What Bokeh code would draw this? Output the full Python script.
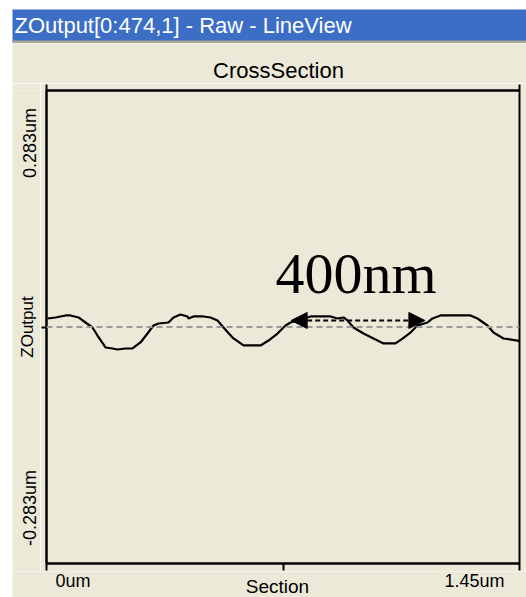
import math
from bokeh.plotting import figure
from bokeh.models import (Range1d, FixedTicker, LinearAxis, Label, Span, Arrow, NormalHead, Spacer)
from bokeh.layouts import column, row
from bokeh.embed import file_html
from bokeh.resources import INLINE

# ---- data (um) ----
section_x = [0.003, 0.0276, 0.0582, 0.0736, 0.0981, 0.1196, 0.1410, 0.1563, 0.1809,
             0.2023, 0.2177, 0.2422, 0.2636, 0.2882, 0.3096, 0.3280, 0.3433, 0.3740,
             0.3893, 0.4108, 0.4322, 0.4353, 0.4506, 0.4813, 0.5027, 0.5242, 0.5426,
             0.5702, 0.6039, 0.6560, 0.6805, 0.7081, 0.7327, 0.7480, 0.7694, 0.8093,
             0.8706, 0.8921, 0.9105, 0.9227, 0.9411, 0.9718, 1.0024, 1.0331, 1.0699,
             1.0913, 1.1158, 1.1373, 1.1680, 1.1833, 1.2078, 1.2477, 1.2998, 1.3212,
             1.3519, 1.3703, 1.4009, 1.4439, 1.45]
zoutput = [0.0102, 0.0114, 0.0138, 0.0138, 0.0114, 0.0054, -0.0006, -0.0102, -0.0245,
           -0.0257, -0.0269, -0.0257, -0.0257, -0.0185, -0.0078, 0.0018, 0.0042, 0.0054,
           0.0114, 0.0150, 0.0126, 0.0102, 0.0126, 0.0126, 0.0114, 0.0078, -0.0006,
           -0.0126, -0.0221, -0.0221, -0.0162, -0.0078, 0.0018, 0.0054, 0.0078, 0.0126,
           0.0126, 0.0102, 0.0114, 0.0078, -0.0006, -0.0078, -0.0138, -0.0197, -0.0197,
           -0.0138, -0.0066, 0.0018, 0.0054, 0.0102, 0.0138, 0.0138, 0.0138, 0.0102,
           0.0018, -0.0066, -0.0138, -0.0162, -0.0174]
zero_level = 0.0
x_min, x_max = 0.0, 1.45
y_min, y_max = -0.283, 0.283
x_ticks = [0.0, 0.725, 1.45]
x_tick_labels = ["0um", "1.45um"]
y_tick_labels = ["0.283um", "-0.283um"]
marker_x = [0.75, 1.16]      # 400 nm span
marker_y = 0.0078
marker_text = "400nm"
window_title = "ZOutput[0:474,1] - Raw - LineView"
chart_title = "CrossSection"
x_title = "Section"
y_title = "ZOutput"

BEIGE = "#ECE9D8"
BLUE = "#3C6EC6"
FONT = "Liberation Sans"


def strip(w, h, bg=BEIGE):
    f = figure(width=w, height=h, output_backend="svg", toolbar_location=None,
               x_range=Range1d(0, w), y_range=Range1d(0, h),
               x_axis_location=None, y_axis_location=None, min_border=0)
    f.grid.visible = False
    f.outline_line_color = None
    f.background_fill_color = bg
    f.border_fill_color = bg
    return f


def lab(f, x, y, t, size, align="center", baseline="middle", angle=0.0, color="black"):
    f.add_layout(Label(x=x, y=y, text=t, text_font=FONT, text_font_size=size,
                       text_color=color, text_align=align, text_baseline=baseline,
                       angle=angle))


# --- window title bar ---
bar = strip(514, 34, BLUE)
bar.quad(left=[0], right=[514], bottom=[0], top=[3], fill_color="#A8A596", line_color=None)
lab(bar, 2, 18.5, window_title, "22px", align="left", color="white")

# --- chart title strip ---
top = strip(514, 40)
lab(top, 266, 12.7, chart_title, "22px")

# --- left text strip ---
left = strip(28, 488)
lab(left, 17, 470, y_tick_labels[0], "18px", align="right", angle=math.pi / 2)
lab(left, 17, 18, y_tick_labels[1], "18px", align="left", angle=math.pi / 2)
lab(left, 15, 244, y_title, "17px", angle=math.pi / 2)

# --- bottom text strip ---
bottom = strip(514, 26)
lab(bottom, 43, 16.3, x_tick_labels[0], "18px", align="left")
lab(bottom, 492, 16.3, x_tick_labels[1], "18px", align="right")
lab(bottom, 265, 10.6, x_title, "19px")

# --- main plot ---
p = figure(width=486, height=488, output_backend="svg", toolbar_location=None,
           x_range=Range1d(x_min, x_max), y_range=Range1d(y_min, y_max),
           x_axis_location=None, y_axis_location=None,
           min_border_left=6, min_border_right=7, min_border_top=7, min_border_bottom=8)
p.border_fill_color = BEIGE
p.background_fill_color = BEIGE
p.outline_line_color = "black"
p.outline_line_width = 2
p.grid.visible = False


def make_axis(ticks, out):
    ax = LinearAxis(ticker=FixedTicker(ticks=ticks))
    ax.axis_line_color = "black"
    ax.axis_line_width = 2
    ax.major_tick_line_color = "black"
    ax.major_tick_line_width = 2
    ax.major_tick_out = out
    ax.major_tick_in = 0
    ax.minor_tick_line_color = None
    ax.major_label_overrides = {t: "" for t in ticks}
    ax.major_label_standoff = 0
    return ax


p.add_layout(make_axis(x_ticks, 7), "below")
p.add_layout(make_axis([x_min, x_max], 6), "above")
p.add_layout(make_axis([zero_level], 5), "left")

p.add_layout(Span(location=zero_level, dimension="width", line_color="#9A9A9A",
                  line_width=2, line_dash="6 4"))
p.line(section_x, zoutput, line_color="black", line_width=2.2)

p.add_layout(Arrow(x_start=marker_x[0], y_start=marker_y, x_end=marker_x[1], y_end=marker_y,
                   line_color="black", line_width=2, line_dash="5 3",
                   start=NormalHead(size=16, fill_color="black", line_color="black", line_width=1),
                   end=NormalHead(size=16, fill_color="black", line_color="black", line_width=1)))
p.add_layout(Label(x=0.702, y=0.064, text=marker_text, text_font="Liberation Serif",
                   text_font_size="58px", text_color="black", text_baseline="alphabetic",
                   text_align="left"))

layout = column(
    Spacer(width=526, height=9),
    row(Spacer(width=12, height=34), bar),
    row(Spacer(width=12, height=40), top),
    row(Spacer(width=12, height=488), left, p),
    row(Spacer(width=12, height=26), bottom),
)

open("out.html", "w").write(file_html(layout, INLINE))
